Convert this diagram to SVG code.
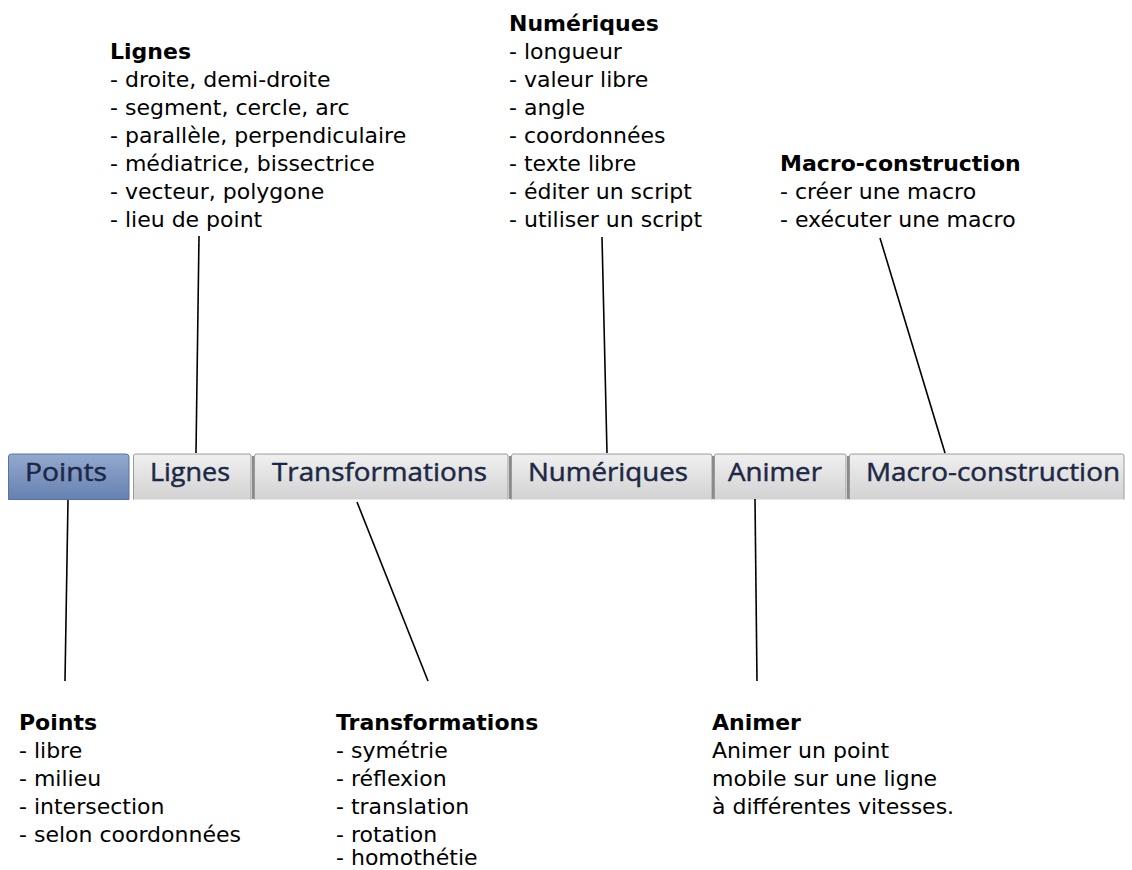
<svg xmlns="http://www.w3.org/2000/svg" width="1132" height="870" viewBox="0 0 1132 870">
<defs>
<linearGradient id="gsel" x1="0" y1="0" x2="0" y2="1">
<stop offset="0" stop-color="#93a9cf"/>
<stop offset="1" stop-color="#6681b0"/>
</linearGradient>
<linearGradient id="gtab" x1="0" y1="0" x2="0" y2="1">
<stop offset="0" stop-color="#f0f0f0"/>
<stop offset="1" stop-color="#d2d2d2"/>
</linearGradient>
<style>
.t{font-family:"DejaVu Sans",sans-serif;font-size:22px;fill:#000}
.b{font-weight:bold}
.tab{fill:url(#gtab);stroke:#9a9a9a;stroke-width:1}
.sel{fill:url(#gsel);stroke:#58739f;stroke-width:1}
.tl{font-family:"Open Sans","Noto Sans",sans-serif;font-size:25px;fill:#1c2845;stroke:#1c2845;stroke-width:0.45}
.sep{stroke:#8a8a8a;stroke-width:2}
.c{stroke:#000;stroke-width:1.6;fill:none}
</style>
</defs>
<rect width="1132" height="870" fill="#fff"/>
<g id="tabbar">
<g id="tab-points"><path class="sel" d="M8.5,499.5 V457 a3,3 0 0 1 3,-3 H126 a3,3 0 0 1 3,3 V499.5 Z"/><text class="tl" x="25" y="481" textLength="82" lengthAdjust="spacingAndGlyphs">Points</text></g>
<g id="tab-lignes"><path class="tab" d="M133.5,499.5 V456 a2,2 0 0 1 2,-2 H249 a2,2 0 0 1 2,2 V499.5"/><text class="tl" x="150" y="481" textLength="80" lengthAdjust="spacingAndGlyphs">Lignes</text></g>
<g id="tab-transformations"><path class="tab" d="M254.5,499.5 V456 a2,2 0 0 1 2,-2 H506 a2,2 0 0 1 2,2 V499.5"/><text class="tl" x="272" y="481" textLength="215" lengthAdjust="spacingAndGlyphs">Transformations</text></g>
<g id="tab-numeriques"><path class="tab" d="M511.5,499.5 V456 a2,2 0 0 1 2,-2 H710 a2,2 0 0 1 2,2 V499.5"/><text class="tl" x="528" y="481" textLength="160" lengthAdjust="spacingAndGlyphs">Numériques</text></g>
<g id="tab-animer"><path class="tab" d="M714.5,499.5 V456 a2,2 0 0 1 2,-2 H844 a2,2 0 0 1 2,2 V499.5"/><text class="tl" x="728" y="481" textLength="94" lengthAdjust="spacingAndGlyphs">Animer</text></g>
<g id="tab-macro"><path class="tab" d="M849.5,499.5 V456 a2,2 0 0 1 2,-2 H1122 a2,2 0 0 1 2,2 V499.5"/><text class="tl" x="866" y="481" textLength="254" lengthAdjust="spacingAndGlyphs">Macro-construction</text></g>
<line class="sep" x1="253" y1="456" x2="253" y2="499"/>
<line class="sep" x1="510" y1="456" x2="510" y2="499"/>
<line class="sep" x1="713" y1="456" x2="713" y2="499"/>
<line class="sep" x1="848" y1="456" x2="848" y2="499"/>
</g>
<g id="connectors">
<line class="c" x1="199" y1="236" x2="196" y2="453"/>
<line class="c" x1="602" y1="237" x2="607" y2="453"/>
<line class="c" x1="880" y1="238" x2="945" y2="453"/>
<line class="c" x1="68" y1="500" x2="65" y2="681"/>
<line class="c" x1="357" y1="502" x2="428" y2="681"/>
<line class="c" x1="755" y1="499" x2="757" y2="681"/>
</g>
<g id="note-lignes">
<text class="t b" x="110" y="59">Lignes</text>
<text class="t" x="110" y="87">- droite, demi-droite</text>
<text class="t" x="110" y="115">- segment, cercle, arc</text>
<text class="t" x="110" y="143">- parallèle, perpendiculaire</text>
<text class="t" x="110" y="171">- médiatrice, bissectrice</text>
<text class="t" x="110" y="199">- vecteur, polygone</text>
<text class="t" x="110" y="227">- lieu de point</text>
</g>
<g id="note-numeriques">
<text class="t b" x="509" y="31">Numériques</text>
<text class="t" x="509" y="59">- longueur</text>
<text class="t" x="509" y="87">- valeur libre</text>
<text class="t" x="509" y="115">- angle</text>
<text class="t" x="509" y="143">- coordonnées</text>
<text class="t" x="509" y="171">- texte libre</text>
<text class="t" x="509" y="199">- éditer un script</text>
<text class="t" x="509" y="227">- utiliser un script</text>
</g>
<g id="note-macro">
<text class="t b" x="780" y="171">Macro-construction</text>
<text class="t" x="780" y="199">- créer une macro</text>
<text class="t" x="780" y="227">- exécuter une macro</text>
</g>
<g id="note-points">
<text class="t b" x="19" y="730">Points</text>
<text class="t" x="19" y="758">- libre</text>
<text class="t" x="19" y="786">- milieu</text>
<text class="t" x="19" y="814">- intersection</text>
<text class="t" x="19" y="842">- selon coordonnées</text>
</g>
<g id="note-transformations">
<text class="t b" x="336" y="730">Transformations</text>
<text class="t" x="336" y="758">- symétrie</text>
<text class="t" x="336" y="786">- réflexion</text>
<text class="t" x="336" y="814">- translation</text>
<text class="t" x="336" y="842">- rotation</text>
<text class="t" x="336" y="865">- homothétie</text>
</g>
<g id="note-animer">
<text class="t b" x="712" y="730">Animer</text>
<text class="t" x="712" y="758">Animer un point</text>
<text class="t" x="712" y="786">mobile sur une ligne</text>
<text class="t" x="712" y="814">à différentes vitesses.</text>
</g>
</svg>
